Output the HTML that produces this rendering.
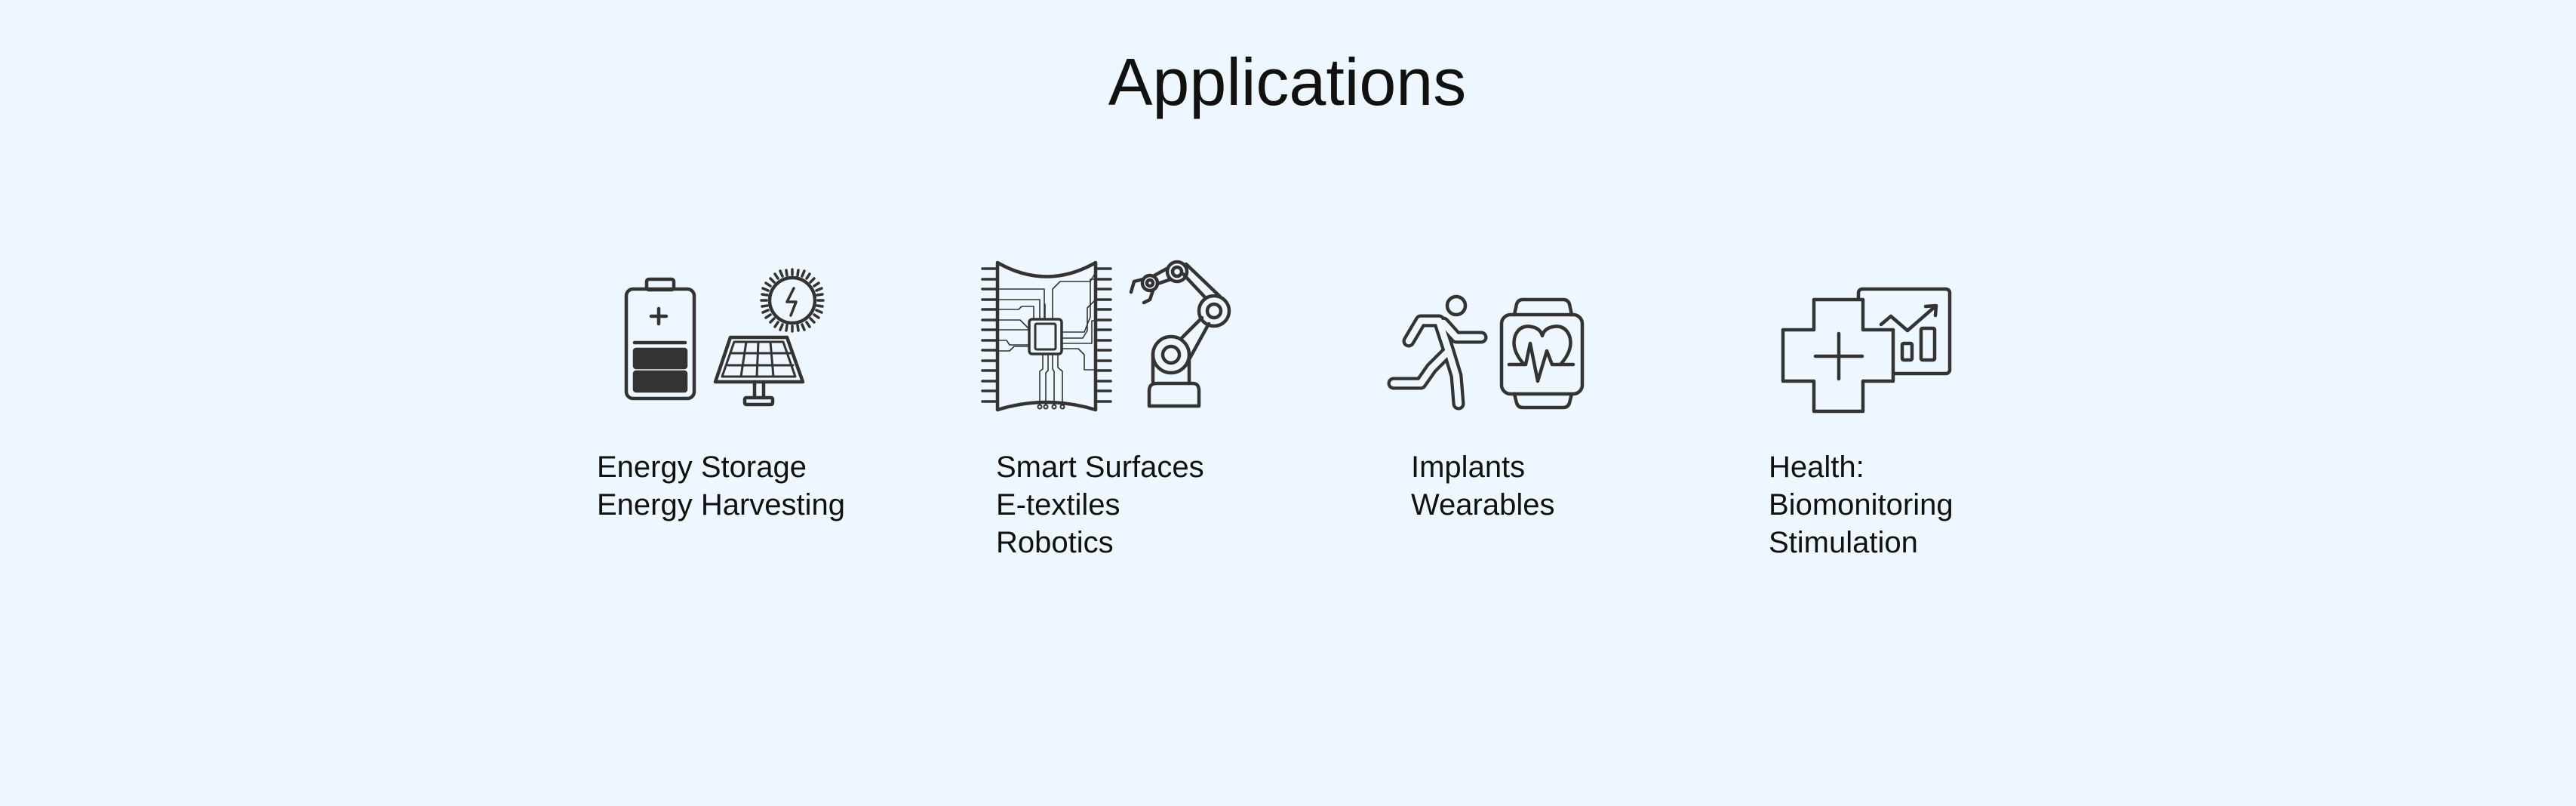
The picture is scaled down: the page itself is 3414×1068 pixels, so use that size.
<!DOCTYPE html>
<html><head><meta charset="utf-8"><style>
html,body{margin:0;padding:0;}
body{width:3414px;height:1068px;background:#eef6ff;position:relative;overflow:hidden;font-family:"Liberation Sans",sans-serif;color:#111;}
.t{position:absolute;left:0;width:3414px;top:65px;text-align:center;font-size:88px;line-height:88px;}
.t span{display:inline-block;}
.l{position:absolute;top:594px;font-size:40px;line-height:50px;white-space:nowrap;}
svg{position:absolute;left:0;top:0;}
</style></head><body>
<div class="t" style="left:-1px">Applications</div>
<div class="l" style="left:791px">Energy Storage<br>Energy Harvesting</div>
<div class="l" style="left:1320px">Smart Surfaces<br>E-textiles<br>Robotics</div>
<div class="l" style="left:1870px">Implants<br>Wearables</div>
<div class="l" style="left:2344px">Health:<br>Biomonitoring<br>Stimulation</div>
<svg width="3414" height="1068" viewBox="0 0 3414 1068" fill="none" stroke="#333" stroke-width="4.5" stroke-linecap="round" stroke-linejoin="round">
<!-- battery -->
<rect x="857" y="370" width="36" height="14" rx="3"/>
<rect x="830" y="383" width="90" height="145" rx="9"/>
<path d="M873 409v20M863 419h20"/>
<path d="M841 454h67"/>
<rect x="841" y="463" width="68" height="24" rx="2" fill="#333"/>
<rect x="841" y="493" width="68" height="25" rx="2" fill="#333"/>
<!-- sun -->
<circle cx="1050" cy="398" r="30"/>
<g stroke-width="3.5" id="teeth">
<path d="M1050 364v-7M1050 432v7M1016 398h-7M1084 398h7M1074 374l5-5M1026 422l-5 5M1074 422l5 5M1026 374l-5-5M1063 366l3-7M1037 430l-3 7M1037 366l-3-7M1063 430l3 7M1018 385l-7-3M1082 411l7 3M1018 411l-7 3M1082 385l7-3M1069 369l4-6M1031 427l-4 6M1031 369l-4-6M1069 427l4 6M1021 379l-6-4M1079 417l6 4M1021 417l-6 4M1079 379l6-4M1057 365l1-7M1043 431l-1 7M1043 365l-1-7M1057 431l1 7M1017 391l-7-1M1083 405l7 1M1017 405l-7 1M1083 391l7-1"/>
</g>
<path d="M1052 382l-9 18h12l-7 18" stroke-width="3.5"/>
<!-- solar panel -->
<path d="M968 447h75l21 59h-116z"/>
<path d="M973 453h65l16 46h-97z" stroke-width="3"/>
<path d="M970 468h77M965 484h86M989 453l-7 46M1005 453l-2 46M1021 453l4 46" stroke-width="3"/>
<path d="M1000 506v21M1012 506v21"/>
<rect x="987" y="527" width="37" height="9" rx="2"/>
<!-- chip/circuit -->
<path d="M1322 348Q1387 385 1452 348V543Q1387 523 1322 543Z"/>
<g stroke-width="3.5">
<path d="M1302 356h20M1302 370h20M1302 383h20M1302 397h20M1302 410h20M1302 424h20M1302 437h20M1302 451h20M1302 464h20M1302 478h20M1302 491h20M1302 505h20M1302 518h20M1302 532h20"/>
<path d="M1452 356h20M1452 370h20M1452 383h20M1452 397h20M1452 410h20M1452 424h20M1452 437h20M1452 451h20M1452 464h20M1452 478h20M1452 491h20M1452 505h20M1452 518h20M1452 532h20"/>
</g>
<rect x="1364" y="423" width="43" height="46" rx="4" stroke-width="3.5"/>
<rect x="1372" y="429" width="27" height="34" rx="2" stroke-width="3"/>
<g stroke-width="1.6">
<path d="M1322 383h62v40M1322 397h56v26M1322 410h28l4-4h16v17M1322 424h30l12 12M1322 437h42M1322 451h12l4 6h26M1322 465h16l6-6h20M1407 440h30l8-20v-50h7M1407 448h28l6-10v-30l11-11M1407 455h40v-30h5M1407 462h22l8 8v20h15M1395 423v-40l10-10h40l7-12M1385 423v-20M1382 469v20l-4 3v45M1389 469v22l-3 3v43M1395 469v20l2 3v45M1402 469v18l6 5v45"/>
</g>
<g stroke-width="2"><circle cx="1378" cy="539" r="2.5"/><circle cx="1386" cy="539" r="2.5"/><circle cx="1397" cy="539" r="2.5"/><circle cx="1408" cy="539" r="2.5"/></g>
<!-- robot arm -->
<path d="M1523 538v-20q0-10 10-10h48q8 0 8 10v20z"/>
<path d="M1528 508v-38M1576 508v-30"/>
<circle cx="1552" cy="470" r="24"/>
<circle cx="1552" cy="470" r="11"/>
<path d="M1565 449l28-28M1575 478l27-49"/>
<circle cx="1609" cy="412" r="20"/>
<circle cx="1609" cy="412" r="9"/>
<path d="M1598 395l-30-32M1617 393l-45-43"/>
<circle cx="1560" cy="360" r="13"/>
<circle cx="1560" cy="360" r="6"/>
<path d="M1548 355l-18 10M1552 370l-18 6"/>
<circle cx="1524" cy="375" r="10"/>
<circle cx="1524" cy="375" r="4"/>
<path d="M1515 370l-12 3l-4 14M1528 385l-4 12l-8 4"/>
<!-- runner -->
<circle cx="1930" cy="405" r="12"/>
<g stroke="#333" stroke-width="17">
<path d="M1920 465L1907 425H1883L1867 452M1913 428L1930 447H1963M1920 465L1897 488L1883 508H1847M1920 465L1930 498L1933 535"/>
</g>
<g stroke="#eef6ff" stroke-width="8.5">
<path d="M1920 465L1907 425H1883L1867 452M1913 428L1930 447H1963M1920 465L1897 488L1883 508H1847M1920 465L1930 498L1933 535"/>
</g>
<!-- watch -->
<path d="M2007 417l3-14q2-6 8-6h54q6 0 8 6l3 14M2007 522l3 12q2 6 8 6h54q6 0 8-6l3-12"/>
<rect x="1990" y="417" width="107" height="105" rx="12"/>
<path d="M2020 483q-18-20-12-38q7-17 26-11q8 3 10 11q2-8 10-11q19-6 26 11q6 18-12 38"/>
<path d="M2000 483h22l6-28l10 50l12-40l7 18h28"/>
<!-- health -->
<rect x="2463" y="383" width="121" height="112" rx="5"/>
<path d="M2404 397h65v40h40v68h-40v40h-65v-40h-41v-68h41z" fill="#eef6ff"/>
<path d="M2437 442v60M2406 472h62"/>
<path d="M2493 430l13-11l22 19l38-33M2552 406l14-1l-1 13"/>
<rect x="2521" y="455" width="13" height="22" rx="2"/>
<rect x="2546" y="435" width="18" height="42" rx="2"/>
</svg>
</body></html>
